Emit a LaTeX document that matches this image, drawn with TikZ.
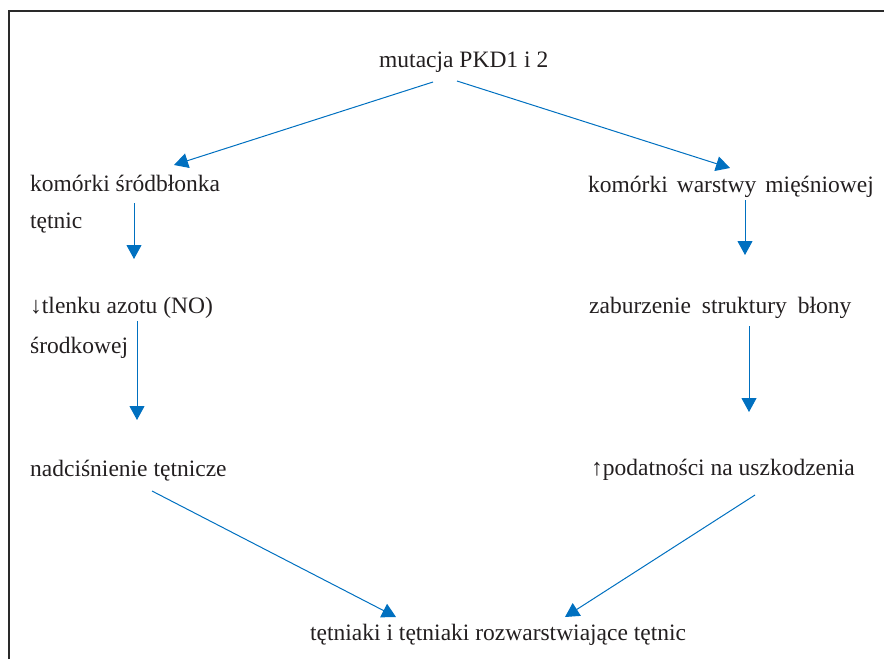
\documentclass[tikz,border=0pt]{standalone}
\usepackage{fontspec}
\setmainfont{Liberation Serif}
\usetikzlibrary{arrows.meta,calc}
\definecolor{arrblue}{HTML}{0070C0}
\definecolor{txt}{HTML}{231F20}
\definecolor{frame}{HTML}{2A2A2A}
\tikzset{
  lbl/.style={anchor=base west,inner sep=0pt,text=txt,font=\fontsize{23.5}{26}\selectfont},
  arr/.style={draw=arrblue,line width=1pt,-{Triangle[width=15pt,length=14pt]},arrblue},
  frm/.style={draw=frame,line width=1.4pt}
}
\begin{document}
\begin{tikzpicture}[x=1pt,y=-1pt]
\useasboundingbox (0,0) rectangle (884,659);
\coordinate (fa) at (9,659);
\coordinate (fb) at (9,11);
\coordinate (fc) at (884,11);
\draw[frm] (fa) -- (fb) -- (fc);

\node[lbl] (mut) at (379,67) {mutacja PKD1 i 2};
\node[lbl] (ks) at (30,191) {komórki śródbłonka};
\node[lbl] (tet) at (30,228) {tętnic};
\node[lbl] (kw) at (588,192) {komórki\hspace{9pt}warstwy\hspace{9pt}mięśniowej};
\node[lbl] (lno) at (30,313) {↓tlenku azotu (NO)};
\node[lbl] (sro) at (30,353) {środkowej};
\node[lbl] (zab) at (589,313) {zaburzenie\hspace{11pt}struktury\hspace{11pt}błony};
\node[lbl] (nad) at (30,476) {nadciśnienie tętnicze};
\node[lbl] (pod) at (591,475) {↑podatności na uszkodzenia};
\node[lbl] (tt) at (310,640) {tętniaki i tętniaki rozwarstwiające tętnic};

\draw[arr] ($(mut.base west)+(54,15)$) -- ($(ks.base west)+(144,-26)$);
\draw[arr] ($(mut.base west)+(78,14)$) -- ($(kw.base west)+(142,-24)$);
\draw[arr] ($(ks.base west)+(104,12)$) -- ($(lno.base west)+(104,-54)$);
\draw[arr] ($(lno.base west)+(107,8)$) -- ($(nad.base west)+(107,-56)$);
\draw[arr] ($(kw.base west)+(157,8)$) -- ($(zab.base west)+(156,-58)$);
\draw[arr] ($(zab.base west)+(160,13)$) -- ($(pod.base west)+(158,-63)$);
\draw[arr] ($(nad.base west)+(122,15)$) -- ($(tt.base west)+(86,-23)$);
\draw[arr] ($(pod.base west)+(164,20)$) -- ($(tt.base west)+(255,-23)$);
\end{tikzpicture}
\end{document}
